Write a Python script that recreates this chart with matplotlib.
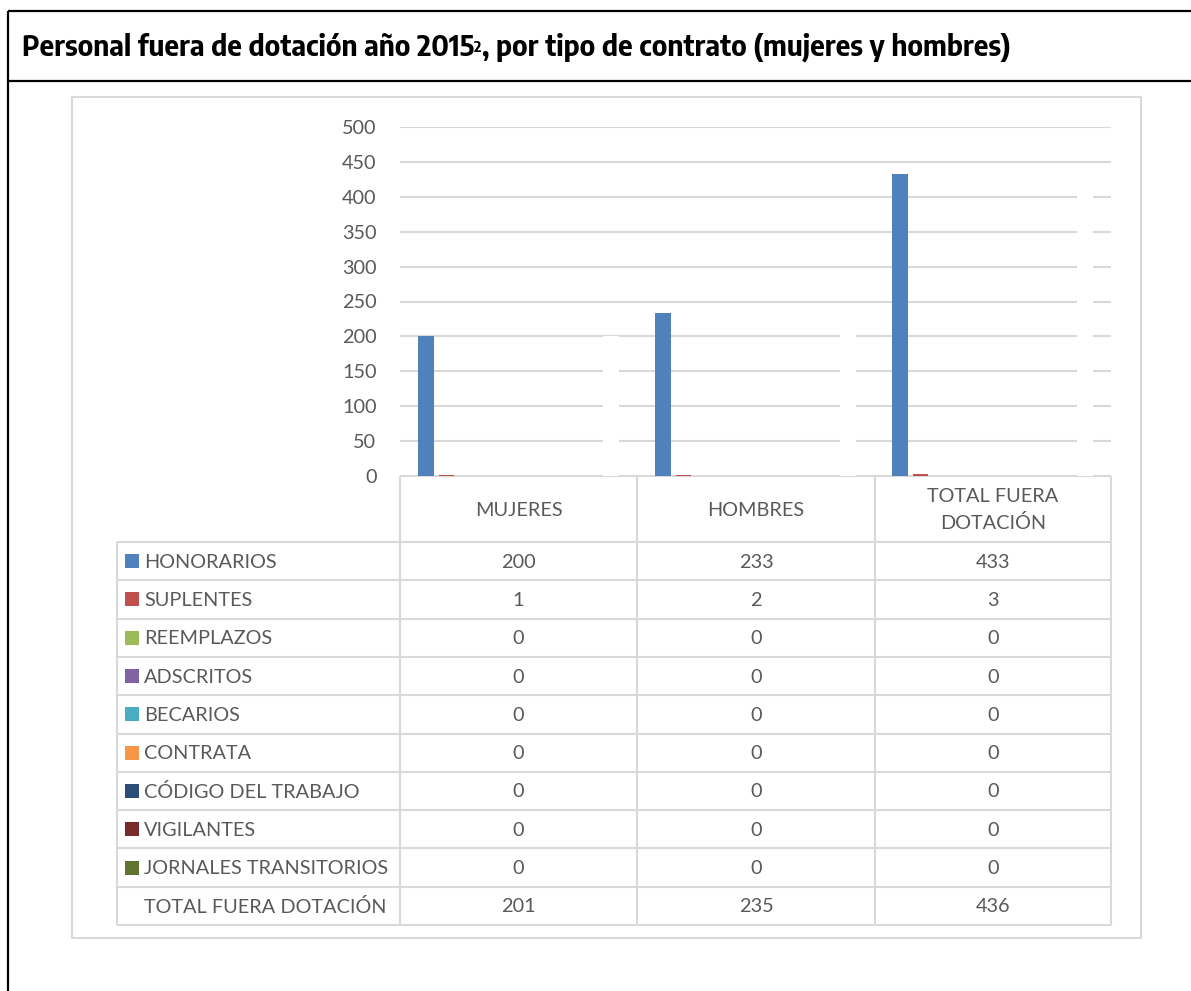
import matplotlib.pyplot as plt
from matplotlib.patches import Rectangle
from matplotlib import font_manager
from matplotlib.textpath import TextPath
import numpy as np

# data
categories = ["MUJERES", "HOMBRES", "TOTAL FUERA\nDOTACIÓN"]
series = ["HONORARIOS", "SUPLENTES", "REEMPLAZOS", "ADSCRITOS", "BECARIOS",
          "CONTRATA", "CÓDIGO DEL TRABAJO", "VIGILANTES", "JORNALES TRANSITORIOS",
          "TOTAL FUERA DOTACIÓN"]
honorarios = [200, 233, 433]
suplentes = [1, 2, 3]
reemplazos = [0, 0, 0]
adscritos = [0, 0, 0]
becarios = [0, 0, 0]
contrata = [0, 0, 0]
codigo_trabajo = [0, 0, 0]
vigilantes = [0, 0, 0]
jornales = [0, 0, 0]
total = [201, 235, 436]
values = [honorarios, suplentes, reemplazos, adscritos, becarios, contrata,
          codigo_trabajo, vigilantes, jornales, total]
colors = ["#4F81BD", "#C0504D", "#9BBB59", "#8064A2", "#4BACC6", "#F79646",
          "#2C4D75", "#772C2A", "#5F7530", "white"]
yticks = [0, 50, 100, 150, 200, 250, 300, 350, 400, 450, 500]

W, H = 1191, 991
txt = "#595959"
grid = "#D9D9D9"
font = ["Lato", "DejaVu Sans"]
fs = 14.3
title_a = "Personal fuera de dotación año 2015"
title_b = ", por tipo de contrato (mujeres y hombres)"
title_w = 1013 - 22


# pick a narrow bold face (Arial Narrow look) whose width is closest to the reference
def narrow_font():
    best, best_d = None, None
    for f in font_manager.fontManager.ttflist:
        name = f.name.lower()
        narrow = "narrow" in name or "condensed" in name or \
            f.stretch in ("condensed", "semi-condensed", "extra-condensed")
        if not narrow or f.weight not in ("bold", 700):
            continue
        fp = font_manager.FontProperties(fname=f.fname, size=19)
        try:
            w = TextPath((0, 0), title_a + "2" + title_b, prop=fp).get_extents().width
        except Exception:
            continue
        w = w * 100 / 72
        d = abs(w - title_w)
        if best is None or d < best_d:
            best, best_d = f.fname, d
    if best is None:
        return font_manager.FontProperties(family="Liberation Sans", weight="bold")
    return font_manager.FontProperties(fname=best)


title_fp = narrow_font()
title_fp.set_size(19)

fig = plt.figure(figsize=(W / 100, H / 100), dpi=100)

# background layer in pixel coordinates (frames, table)
bg = fig.add_axes([0, 0, 1, 1], zorder=0)
bg.set_xlim(0, W)
bg.set_ylim(H, 0)
bg.axis("off")

# outer black frame
bg.plot([8, 8], [11, H], color="black", lw=1.6, solid_capstyle="butt")
bg.plot([8, W], [11, 11], color="black", lw=1.6, solid_capstyle="butt")
bg.plot([8, W], [81, 81], color="black", lw=1.6, solid_capstyle="butt")

# title with superscript
sup_fp = title_fp.copy()
sup_fp.set_weight("normal")
sup_fp.set_size(10)
t1 = bg.text(22, 56, title_a, fontproperties=title_fp, va="baseline", ha="left")
t2 = bg.annotate("2", xy=(1, 0), xycoords=t1, xytext=(0, 5), textcoords="offset points",
                 fontproperties=sup_fp, va="bottom", ha="left")
t3 = bg.annotate(title_b, xy=(1, 0), xycoords=t2, xytext=(0, -5), textcoords="offset points",
                 fontproperties=title_fp, va="bottom", ha="left")

# fit title width to the reference
fig.canvas.draw()
r = fig.canvas.get_renderer()
span = t3.get_window_extent(r).x1 - t1.get_window_extent(r).x0
k = min(1.2, title_w / span)
title_fp.set_size(19 * k)
sup_fp.set_size(10 * k)
for t in (t1, t3):
    t.set_fontproperties(title_fp)
t2.set_fontproperties(sup_fp)

# chart area border
bg.add_patch(Rectangle((72, 97), 1141 - 72, 938 - 97, fill=False, ec=grid, lw=1.5))

# main plot
px_l, px_r, px_t, px_b = 400, 1111, 127, 476
ax = fig.add_axes([px_l / W, 1 - px_b / H, (px_r - px_l) / W, (px_b - px_t) / H], zorder=2)
ax.set_facecolor("none")
x = np.arange(len(categories))
step = 0.0868
width = 0.0674
for i, (vals, c) in enumerate(zip(values, colors)):
    ax.bar(x + (i - 4.5) * step, vals, width=width, color=c, zorder=3, linewidth=0)
ax.set_xlim(-0.5, len(categories) - 0.5)
ax.set_ylim(0, 500)
ax.set_yticks(yticks)
ax.yaxis.grid(True, color=grid, lw=1.5, zorder=0)
ax.set_axisbelow(True)
for s in ax.spines.values():
    s.set_visible(False)
ax.set_xticks([])
ax.tick_params(axis="y", length=0, pad=17, labelcolor=txt, labelsize=fs)
for lab in ax.get_yticklabels():
    lab.set_family(font)

# data table below
col_x = [400, 637, 875, 1111]
lab_x0 = 117
hdr_top, row_top, row_h = 476, 542, 38.3
n_rows = len(series)
tbl_bot = row_top + n_rows * row_h
lkw = dict(color=grid, lw=1.5, solid_capstyle="butt")
bg.plot([col_x[0], col_x[-1]], [hdr_top, hdr_top], **lkw)
for rr in range(n_rows + 1):
    yy = row_top + rr * row_h
    bg.plot([lab_x0, col_x[-1]], [yy, yy], **lkw)
for cx in col_x:
    bg.plot([cx, cx], [hdr_top, tbl_bot], **lkw)
bg.plot([lab_x0, lab_x0], [row_top, tbl_bot], **lkw)

for j, cat in enumerate(categories):
    bg.text((col_x[j] + col_x[j + 1]) / 2, (hdr_top + row_top) / 2 + 1, cat, ha="center",
            va="center", color=txt, fontsize=fs, family=font, linespacing=1.6)

for rr, (name, vals, c) in enumerate(zip(series, values, colors)):
    yc = row_top + (rr + 0.5) * row_h
    if c != "white":
        bg.add_patch(Rectangle((125, yc - 7), 14, 14, color=c, lw=0))
    bg.text(144, yc + 1, name, ha="left", va="center", color=txt, fontsize=fs, family=font)
    for j, v in enumerate(vals):
        bg.text((col_x[j] + col_x[j + 1]) / 2, yc + 1, str(v), ha="center", va="center",
                color=txt, fontsize=fs, family=font)

fig.savefig("out.png", dpi=100)
